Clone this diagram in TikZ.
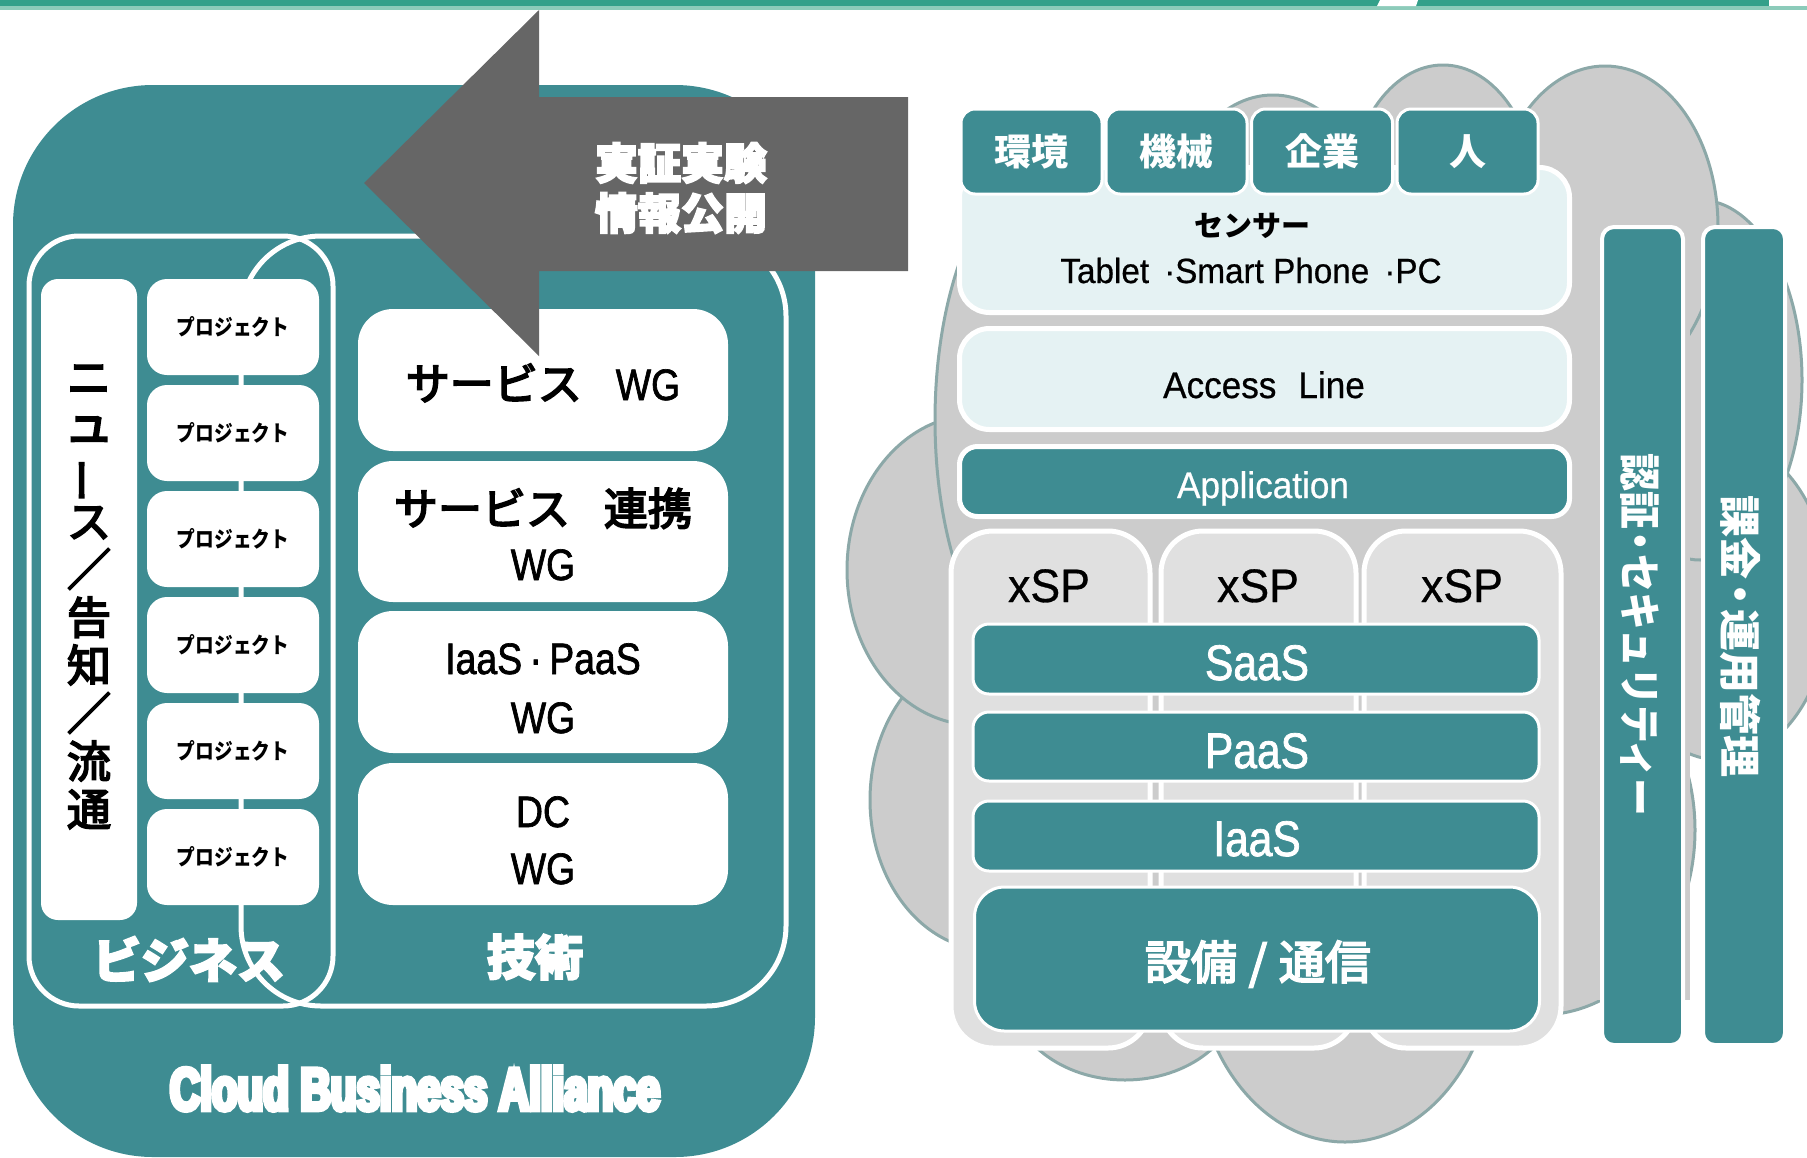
\documentclass[tikz,border=0pt]{standalone}
\usepackage{graphicx}
\usepackage{fontspec}
\setmainfont{Liberation Sans}
\newfontfamily\jp{Noto Sans CJK JP}
\newfontfamily\jpm[FakeBold=4]{Noto Sans CJK JP}
\newfontfamily\jpn[FakeStretch=0.85]{Noto Sans CJK JP}
\newfontfamily\jpheavy[FakeBold=4]{Noto Sans CJK JP}
\newfontfamily\narrow[FakeStretch=0.85,FakeBold=1.5]{Liberation Sans}
\newfontfamily\rlatin[FakeStretch=0.95,FakeBold=0.6]{Liberation Sans}
\newfontfamily\cbafont[FakeStretch=0.7,FakeBold=8]{Liberation Sans}
\newcommand\fsz[2]{\fontsize{#1}{#2}\selectfont}
\newcommand\mdot[2]{{\jp\kern#1pt・\kern#2pt}}

\definecolor{cbteal}{RGB}{62,140,146}
\definecolor{arrowgray}{RGB}{102,102,102}
\definecolor{cloudfill}{RGB}{204,204,204}
\definecolor{cloudline}{RGB}{140,168,168}
\definecolor{paleblue}{RGB}{229,242,243}
\definecolor{xspgray}{RGB}{224,224,224}
\definecolor{bargreen}{RGB}{51,160,138}
\definecolor{barlight}{RGB}{140,203,186}

\tikzset{
	bubble/.style={fill=cloudfill, draw=cloudline, line width=3pt},
	venn/.style={draw=white, line width=5pt},
	wbox/.style={fill=white, inner sep=0pt, outer sep=0pt},
	tealbox/.style={fill=cbteal, draw=white, line width=3pt, inner sep=0pt, outer sep=0pt},
	palebox/.style={fill=paleblue, draw=white, line width=5pt, rounded corners=30pt, inner sep=0pt},
	xspcol/.style={fill=xspgray, draw=white, line width=5pt, rounded corners=42pt, inner sep=0pt},
	txt/.style={inner sep=0pt, anchor=base},
	heavy/.style={inner sep=0pt, text=white, font=\jpheavy\bfseries\fsz{48}{50}},
	catbox/.style={tealbox, rounded corners=14pt, minimum width=141pt, minimum height=85pt, text=white, font=\jp\bfseries\fsz{37}{40}},
}

\begin{document}
\begin{tikzpicture}[x=1pt,y=-1pt]
	\useasboundingbox (0,0) rectangle (1807,1157);
	\fill[bargreen] (0,0) rectangle (1807,6);
	\fill[barlight] (0,6) rectangle (1807,10);
	\fill[white] (1380,0) -- (1418,0) -- (1416,6) -- (1377,6) -- cycle;
	\fill[white] (1769,0) rectangle (1807,6);

	\fill[cbteal, rounded corners=140pt] (13,85) rectangle (815,1157);
	\draw[venn, rounded corners=50pt] (29,236) rectangle (333,1006);
	\draw[venn, rounded corners=80pt] (241,236) rectangle (786,1006);

	\node[wbox, rounded corners=17pt, minimum width=96pt, minimum height=641pt] (news) at (89,599.5) {};
	\node[inner sep=0pt, align=center, font=\jpm\fsz{44}{48}] (newstxt) at (89,597)
		{ニ\\\scalebox{1.12}{ュ}\\\rotatebox[origin=c]{90}{ー}\\ス\\／\\告\\知\\／\\流\\通};
	\foreach \i in {0,...,5}
		\node[wbox, rounded corners=20pt, minimum width=172pt, minimum height=96pt,
			font=\jpn\bfseries\fsz{22}{24}] (proj\i) at (233,327+106*\i) {プロジェクト};

	\node[wbox, rounded corners=35pt, minimum width=370pt, minimum height=142pt] (wgsvc) at (543,380) {};
	\node[wbox, rounded corners=35pt, minimum width=370pt, minimum height=141pt] (wglink) at (543,531.5) {};
	\node[wbox, rounded corners=35pt, minimum width=370pt, minimum height=142pt] (wgiaas) at (543,682) {};
	\node[wbox, rounded corners=35pt, minimum width=370pt, minimum height=142pt] (wgdc) at (543,834) {};
	\node[txt, font=\fsz{44}{50}] (wgsvca) at (543,400) {{\jpm サービス}\hspace{34pt}{\narrow WG}};
	\node[txt, font=\fsz{44}{50}] (wglinka) at (543,525) {{\jpm サービス\hspace{34pt}連携}};
	\node[txt, font=\fsz{44}{50}] (wglinkb) at (543,580) {\narrow WG};
	\node[txt, font=\fsz{44}{50}] (wgiaasa) at (543,674) {\narrow IaaS\,·\,PaaS};
	\node[txt, font=\fsz{44}{50}] (wgiaasb) at (543,733) {\narrow WG};
	\node[txt, font=\fsz{44}{50}] (wgdca) at (543,827) {\narrow DC};
	\node[txt, font=\fsz{44}{50}] (wgdcb) at (543,884) {\narrow WG};

	\node[heavy] (biz) at (189,959) {ビジネス};
	\node[heavy] (tech) at (535,957) {技術};
	\node[txt, text=white, font=\cbafont\bfseries\fsz{60}{60}] (cba) at (415,1110) {Cloud Business Alliance};

	\fill[arrowgray] (908,97) -- (539,97) -- (539,10) -- (364,183) -- (539,356) -- (539,271) -- (908,271) -- cycle;
	\node[heavy, font=\jpheavy\bfseries\fsz{43}{50}, align=center] (trial) at (681,188) {実証実験\\情報公開};

	\foreach \cx/\cy/\rx/\ry in {1345/948/150/194, 1125/990/115/90, 990/800/120/150, 975/570/128/155,
		1060/420/125/265, 1720/600/110/160, 1540/830/155/185, 1700/380/102/180,
		1605/227/113/161, 1443/205/95/140, 1273/225/100/130}
		\draw[bubble] (\cx,\cy) ellipse [x radius=\rx*1pt, y radius=\ry*1pt];
	\fill[cloudfill] (960,200) rectangle (1690,1000);

	\node[xspcol, minimum width=199pt, minimum height=517pt] (xspa) at (1050.5,789.5) {};
	\node[xspcol, minimum width=195pt, minimum height=517pt] (xspb) at (1258.5,789.5) {};
	\node[xspcol, minimum width=197pt, minimum height=517pt] (xspc) at (1462.5,789.5) {};
	\node[txt, font=\rlatin\fsz{47}{50}] (xspat) at (1049,602) {xSP};
	\node[txt, font=\rlatin\fsz{47}{50}] (xspbt) at (1258,602) {xSP};
	\node[txt, font=\rlatin\fsz{47}{50}] (xspct) at (1462,602) {xSP};

	\node[tealbox, rounded corners=16pt, minimum width=566pt, minimum height=70pt] (saas) at (1256,659) {};
	\node[tealbox, rounded corners=16pt, minimum width=566pt, minimum height=69pt] (paas) at (1256,746.5) {};
	\node[tealbox, rounded corners=16pt, minimum width=566pt, minimum height=70pt] (iaas) at (1256,836) {};
	\node[tealbox, rounded corners=30pt, minimum width=565pt, minimum height=144pt] (infra) at (1257,959) {};
	\node[txt, text=white, font=\narrow\fsz{50}{50}] (saast) at (1257,680) {SaaS};
	\node[txt, text=white, font=\narrow\fsz{50}{50}] (paast) at (1257,768) {PaaS};
	\node[txt, text=white, font=\narrow\fsz{50}{50}] (iaast) at (1257,856) {IaaS};
	\node[inner sep=0pt, text=white, font=\jpm\fsz{46}{50}] (infrat) at (1258,964) {設備\hspace{12pt}/\hspace{12pt}通信};

	\node[tealbox, line width=5pt, rounded corners=18pt, minimum width=610pt, minimum height=70pt] (app) at (1264.5,481.5) {};
	\node[txt, text=white, font=\rlatin\fsz{37}{40}] (appt) at (1263,498) {Application};
	\node[palebox, minimum width=610pt, minimum height=101pt] (access) at (1264.5,379) {};
	\node[txt, font=\rlatin\fsz{37}{40}] (accesst) at (1264,398) {Access\hspace{22pt}Line};
	\node[palebox, minimum width=610pt, minimum height=145pt] (sensor) at (1264.5,240) {};
	\node[inner sep=0pt, font=\jp\bfseries\fsz{29}{30}] (sensort) at (1252,226) {センサー};
	\node[txt, font=\rlatin\fsz{35}{36}] (devices) at (1251,283) {Tablet \,·Smart Phone \,·PC};

	\node[catbox] (env) at (1031.5,151.5) {環境};
	\node[catbox] (mach) at (1176.5,151.5) {機械};
	\node[catbox] (corp) at (1322,151.5) {企業};
	\node[catbox] (person) at (1467.5,151.5) {人};

	\node[tealbox, line width=4pt, rounded corners=12pt, minimum width=81pt, minimum height=818pt] (auth) at (1642.5,636) {};
	\node[tealbox, line width=4pt, rounded corners=12pt, minimum width=82pt, minimum height=818pt] (bill) at (1744,636) {};
	\node[inner sep=0pt, rotate=-90, text=white, font=\jp\bfseries\fsz{42}{44}] (autht) at (1640,635)
		{\scalebox{0.9}[1]{認証\mdot{-7}{-7}セキュリティー}};
	\node[inner sep=0pt, rotate=-90, text=white, font=\jp\bfseries\fsz{42}{44}] (billt) at (1741,636) {課金\mdot{-6}{-6}運用管理};
\end{tikzpicture}
\end{document}
